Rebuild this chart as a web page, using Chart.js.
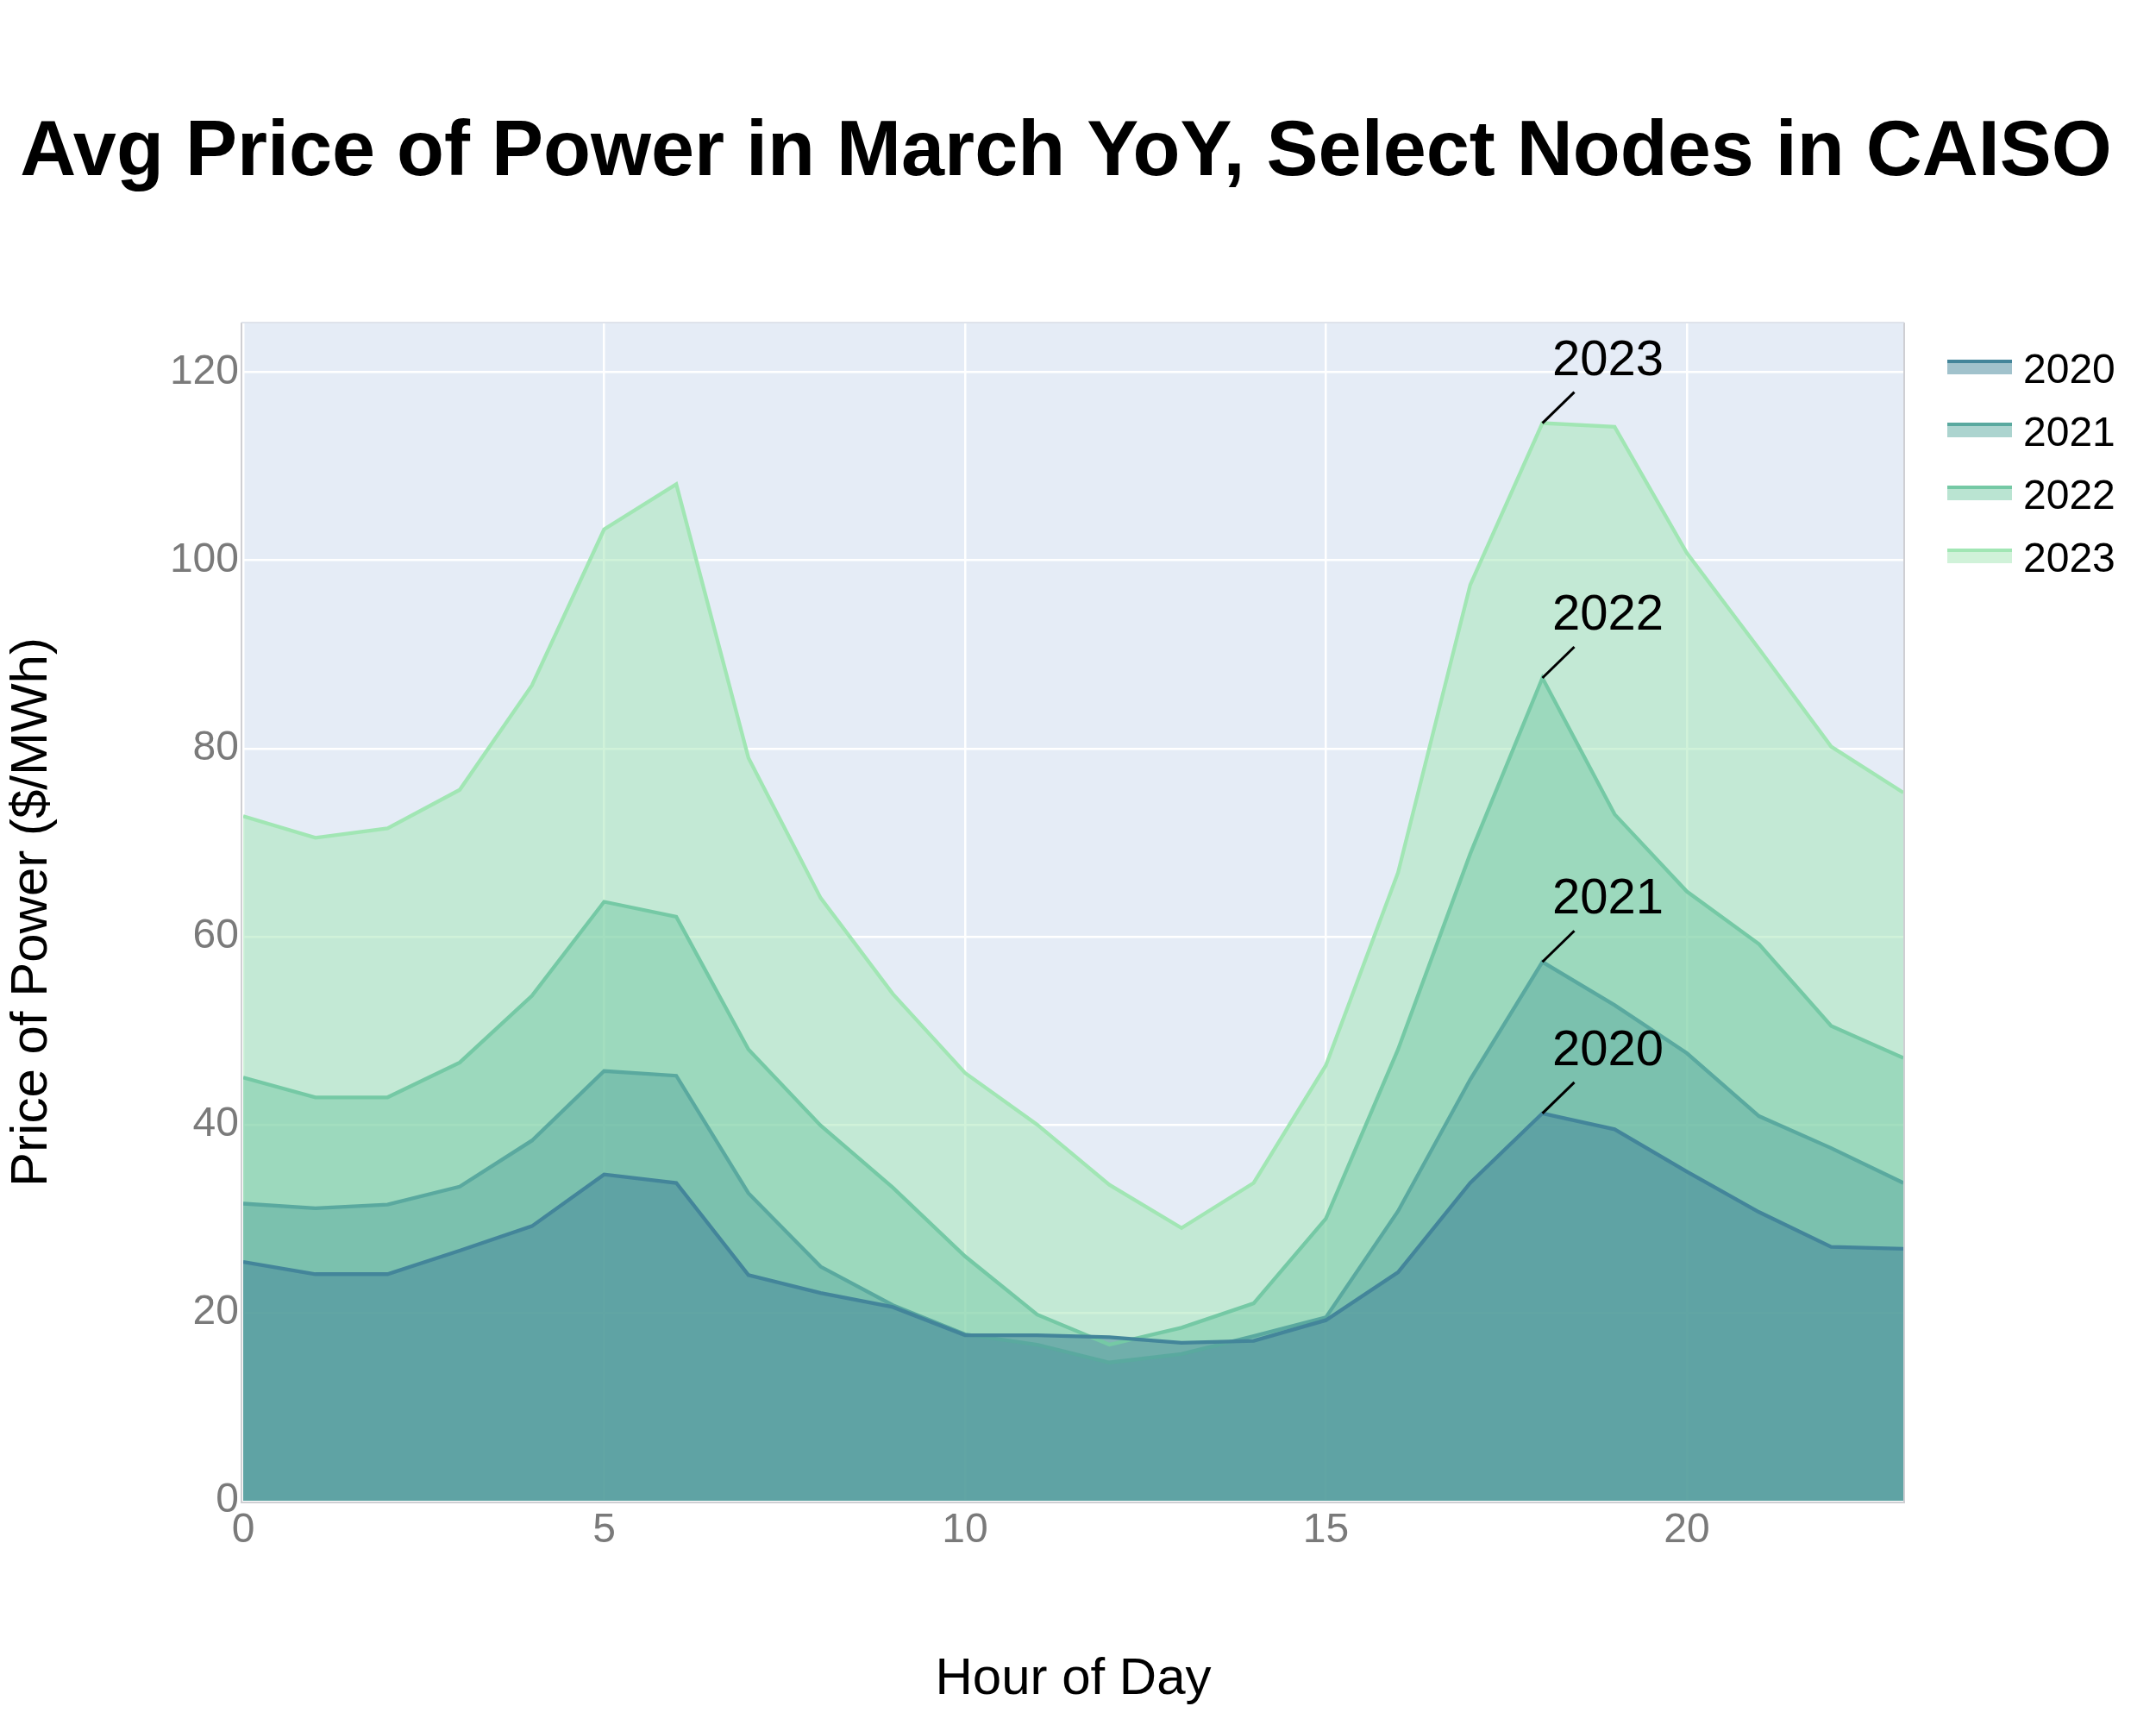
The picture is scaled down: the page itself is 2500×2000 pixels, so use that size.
<!DOCTYPE html>
<html><head><meta charset="utf-8">
<script src="https://cdn.jsdelivr.net/npm/chart.js@4"></script>
<style>html,body{margin:0;padding:0;background:#fff}canvas{display:block}</style>
</head><body>
<canvas id="c" width="2500" height="2000"></canvas>
<script>
const hours = [0,1,2,3,4,5,6,7,8,9,10,11,12,13,14,15,16,17,18,19,20,21,22,23];
const years = ['2020','2021','2022','2023'];
const price2020 = [25.4,24.1,24.1,26.6,29.2,34.7,33.8,24.0,22.1,20.6,17.6,17.6,17.4,16.8,17.0,19.2,24.3,33.8,41.2,39.5,35.0,30.7,27.0,26.8];
const price2021 = [31.6,31.1,31.5,33.4,38.3,45.7,45.2,32.7,24.9,20.8,17.7,16.6,14.7,15.6,17.5,19.5,30.8,44.8,57.3,52.7,47.6,40.9,37.5,33.8];
const price2022 = [45.0,42.9,42.9,46.6,53.7,63.7,62.1,48.0,39.9,33.3,26.0,19.8,16.6,18.4,21.0,30.0,48.0,68.8,87.5,73.0,64.8,59.2,50.5,47.1];
const price2023 = [72.8,70.5,71.5,75.6,86.7,103.3,108.1,79.0,64.1,53.9,45.5,40.0,33.6,29.0,33.8,46.3,66.8,97.4,114.6,114.2,100.8,90.6,80.2,75.3];
const xTicks = [0,5,10,15,20];
const yTicks = [0,20,40,60,80,100,120];
const titleText = 'Avg Price of Power in March YoY, Select Nodes in CAISO';
const xTitle = 'Hour of Day';
const yTitle = 'Price of Power ($/MWh)';
const annotHour = 18;

const seriesValues = [price2020, price2021, price2022, price2023];
const lineColors = ['#43859a','#5aa99f','#75c9a5','#a1e6b4'];
const FONT = '"Liberation Sans", Arial, Helvetica, sans-serif';

function rgba(hex, a) {
  const n = parseInt(hex.slice(1), 16);
  return `rgba(${(n>>16)&255},${(n>>8)&255},${n&255},${a})`;
}

const datasets = years.map((y, i) => ({
  label: y,
  data: hours.map((h, k) => ({x: h, y: seriesValues[i][k]})),
  borderColor: lineColors[i],
  backgroundColor: rgba(lineColors[i], 0.5),
  fill: 'origin',
  borderWidth: 4.3,
  pointRadius: 0,
  pointHoverRadius: 0,
  tension: 0
}));

const decor = {
  id: 'decor',
  beforeDraw(chart) {
    const {ctx, chartArea: a} = chart;
    ctx.save();
    ctx.fillStyle = '#ffffff';
    ctx.fillRect(0, 0, chart.width, chart.height);
    ctx.fillStyle = '#e5ecf6';
    ctx.fillRect(a.left, a.top, a.right - a.left, a.bottom - a.top);
    ctx.restore();
  },
  afterDraw(chart) {
    const {ctx, chartArea: a} = chart;
    ctx.save();
    // plot frame
    ctx.strokeStyle = 'rgba(195,195,200,0.8)';
    ctx.lineWidth = 2;
    ctx.beginPath();
    ctx.moveTo(a.left - 2, a.top - 1); ctx.lineTo(a.left - 2, a.bottom + 2);
    ctx.lineTo(a.right + 1, a.bottom + 2); ctx.lineTo(a.right + 1, a.top - 1);
    ctx.stroke();
    ctx.strokeStyle = 'rgba(215,220,230,0.8)';
    ctx.beginPath(); ctx.moveTo(a.left - 2, a.top - 1); ctx.lineTo(a.right + 1, a.top - 1); ctx.stroke();

    // title
    ctx.fillStyle = '#000';
    ctx.font = `bold 90px ${FONT}`;
    ctx.textAlign = 'center';
    ctx.textBaseline = 'alphabetic';
    ctx.fillText(titleText, 1236, 203);

    // legend
    ctx.font = `48px ${FONT}`;
    ctx.textAlign = 'left';
    years.forEach((y, i) => {
      const cy = 426 + i * 73;
      ctx.fillStyle = rgba(lineColors[i], 0.5);
      ctx.fillRect(2258, cy - 9, 75, 17);
      ctx.fillStyle = lineColors[i];
      ctx.fillRect(2258, cy - 9, 75, 4);
      ctx.fillStyle = '#000';
      ctx.fillText(y, 2346, cy + 18);
    });

    // annotations
    const idx = hours.indexOf(annotHour);
    ctx.font = `58px ${FONT}`;
    ctx.textAlign = 'center';
    ctx.textBaseline = 'middle';
    years.forEach((y, i) => {
      const pt = chart.getDatasetMeta(i).data[idx];
      const px = pt.x, py = pt.y;
      ctx.strokeStyle = '#000';
      ctx.lineWidth = 3;
      ctx.beginPath();
      ctx.moveTo(px, py);
      ctx.lineTo(px + 37, py - 36);
      ctx.stroke();
      ctx.fillStyle = '#000';
      ctx.fillText(y, px + 76, py - 72);
    });
    ctx.restore();
  }
};

new Chart(document.getElementById('c'), {
  type: 'line',
  data: {datasets},
  plugins: [decor],
  options: {
    responsive: false,
    animation: false,
    devicePixelRatio: 1,
    layout: {padding: {top: 375, right: 293, bottom: 0, left: 0}},
    plugins: {
      legend: {display: false},
      tooltip: {enabled: false},
      title: {display: false},
      filler: {drawTime: 'beforeDatasetsDraw'}
    },
    scales: {
      x: {
        type: 'linear', min: 0, max: 23,
        afterBuildTicks: s => { s.ticks = xTicks.map(v => ({value: v})); },
        afterFit: s => { s.height = 260; },
        ticks: {font: {family: FONT, size: 48}, color: '#7a7a7a', padding: 6, maxRotation: 0, autoSkip: false, includeBounds: false},
        grid: {color: '#ffffff', lineWidth: 2.5, drawTicks: false},
        border: {display: false},
        title: {display: true, text: xTitle, color: '#000', font: {family: FONT, size: 60}, padding: {top: 0, bottom: 17}}
      },
      y: {
        type: 'linear', min: 0, max: 125.2,
        afterBuildTicks: s => { s.ticks = yTicks.map(v => ({value: v})); },
        afterFit: s => { s.width = 282; },
        ticks: {font: {family: FONT, size: 48}, color: '#7a7a7a', padding: 5, includeBounds: false},
        grid: {color: '#ffffff', lineWidth: 2.5, drawTicks: false},
        border: {display: false},
        title: {display: true, text: yTitle, color: '#000', font: {family: FONT, size: 60}, padding: {top: 1, bottom: 0}}
      }
    }
  }
});
</script>
</body></html>
